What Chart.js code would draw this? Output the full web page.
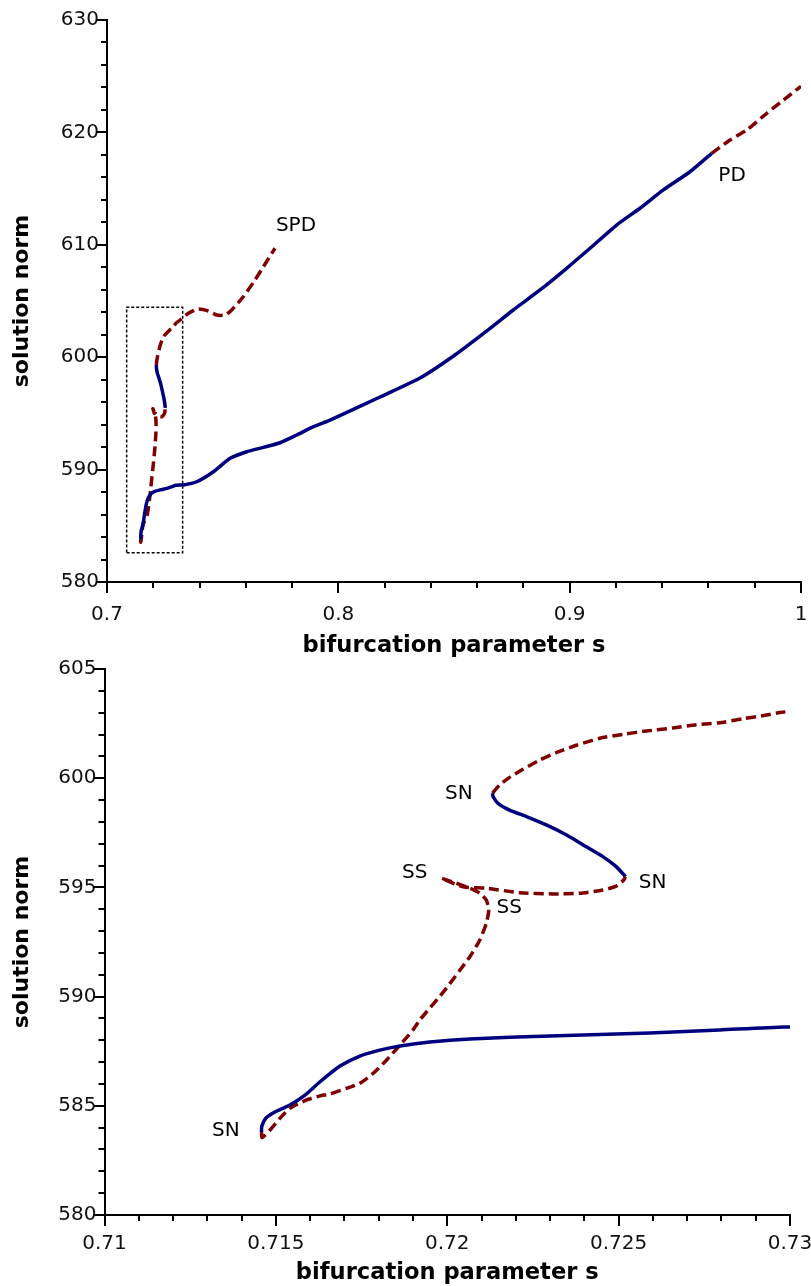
<!DOCTYPE html>
<html>
<head>
<meta charset="utf-8">
<script src="https://cdn.jsdelivr.net/npm/chart.js@4.4.0/dist/chart.umd.min.js"></script>
<style>
  body { margin: 0; background: #fff; }
  #wrap { position: relative; width: 811px; height: 1286px; }
  canvas { position: absolute; left: 0; }
  #overview { top: 0; }
  #detail { top: 657px; }
</style>
</head>
<body>
<div id="wrap">
  <canvas id="overview" width="811" height="657"></canvas>
  <canvas id="detail" width="811" height="629"></canvas>
</div>
<script>
// stable lower branch, from the saddle-node up to the period doubling
var lowS = [0.71458, 0.71459, 0.71471, 0.71497, 0.71541, 0.71585, 0.71628, 0.71687, 0.71745,
  0.71803, 0.71862, 0.71949, 0.72066, 0.72299, 0.72591, 0.72795, 0.72984, 0.73298, 0.7388,
  0.7460, 0.7532, 0.7604, 0.7676, 0.7748, 0.7820, 0.7892, 0.7964, 0.8180, 0.8353, 0.8504,
  0.8656, 0.8756, 0.8872, 0.8987, 0.9088, 0.9203, 0.9304, 0.9405, 0.9520, 0.9614];
var lowN = [583.80, 584.07, 584.44, 584.72, 585.04, 585.49, 586.09, 586.82, 587.28,
  587.55, 587.74, 587.92, 588.06, 588.20, 588.33, 588.47, 588.61, 588.63, 588.92,
  589.81, 591.00, 591.59, 591.98, 592.39, 593.08, 593.82, 594.41, 596.46, 598.15, 600.20,
  602.57, 604.20, 605.98, 607.91, 609.69, 611.76, 613.25, 614.88, 616.50, 618.14];

// unstable after PD
var pdS = [0.9614, 0.9693, 0.9765, 0.9852, 0.9924, 1.0];
var pdN = [618.14, 619.32, 620.21, 621.70, 622.88, 624.10];

// unstable fold: SN -> SS -> SN
var foldS = [0.71458, 0.71460, 0.71483, 0.71512, 0.71541, 0.71590, 0.71628, 0.71657, 0.71706,
  0.71745, 0.71784, 0.71823, 0.71862, 0.71900, 0.71920, 0.71993, 0.72066, 0.72095, 0.72114,
  0.72121, 0.72114, 0.72095, 0.72066, 0.72027, 0.71983, 0.72046, 0.72114, 0.72211, 0.72309,
  0.72386, 0.72454, 0.72493, 0.72515, 0.72520];
var foldN = [583.80, 583.55, 583.89, 584.43, 584.89, 585.27, 585.45, 585.54, 585.80,
  586.03, 586.49, 587.10, 587.78, 588.47, 588.93, 590.30, 591.83, 592.59, 593.36,
  593.97, 594.42, 594.73, 594.96, 595.19, 595.42, 595.03, 594.96, 594.76, 594.70,
  594.73, 594.88, 595.06, 595.34, 595.49];

// stable middle branch between the two SN points
var midS = [0.72520, 0.72493, 0.72454, 0.72406, 0.72348, 0.72289, 0.72231, 0.72182, 0.72148,
  0.72134, 0.72132];
var midN = [595.49, 595.95, 596.41, 596.86, 597.40, 597.86, 598.24, 598.54, 598.85,
  599.15, 599.31];

// unstable upper branch up to SPD
var upS = [0.72132, 0.72153, 0.72182, 0.72221, 0.72270, 0.72318, 0.72377, 0.72445, 0.72513,
  0.72581, 0.72658, 0.72727, 0.72795, 0.72862, 0.72931, 0.72977, 0.7316, 0.7352, 0.7395,
  0.7438, 0.7474, 0.7510, 0.7539, 0.7589, 0.7640, 0.7676, 0.7726];
var upN = [599.31, 599.69, 600.04, 600.41, 600.83, 601.17, 601.51, 601.83, 602.01,
  602.16, 602.30, 602.45, 602.54, 602.72, 602.89, 603.02, 603.31, 603.91, 604.29,
  604.11, 603.75, 603.75, 604.20, 605.38, 606.87, 608.05, 609.69];

// zoom window outline
var boxS = [0.7085, 0.7327, 0.7327, 0.7085, 0.7085];
var boxN = [582.6, 582.6, 604.45, 604.45, 582.6];

// point labels
var overviewText = ['SPD', 'PD'];
var overviewS = [0.7817, 0.9702];
var overviewN = [611.67, 616.12];
var detailText = ['SN', 'SS', 'SS', 'SN', 'SN'];
var detailS = [0.72034, 0.71905, 0.72181, 0.72599, 0.71354];
var detailN = [599.30, 595.66, 594.06, 595.20, 583.85];

// labelled ticks
var overviewXLabels = [0.7, 0.8, 0.9, 1];
var overviewYLabels = [580, 590, 600, 610, 620, 630];
var detailXLabels = [0.71, 0.715, 0.72, 0.725, 0.73];
var detailYLabels = [580, 585, 590, 595, 600, 605];

var BLUE = '#00007f';
var RED = '#7f0000';

function pts(s, n) {
  return s.map(function (v, i) { return { x: v, y: n[i] }; });
}
function stable(s, n) {
  return { data: pts(s, n), showLine: true, borderColor: BLUE, borderWidth: 3.5,
    pointRadius: 0, tension: 0.2, fill: false };
}
function unstable(s, n) {
  return { data: pts(s, n), showLine: true, borderColor: RED, borderWidth: 3.5,
    borderDash: [10, 5], pointRadius: 0, tension: 0.2, fill: false };
}

function labelFor(list) {
  return function (value) {
    for (var i = 0; i < list.length; i++) {
      if (Math.abs(list[i] - value) < 1e-7) return String(list[i]);
    }
    return '';
  };
}

// major / minor tick marks drawn outward from both axes
var axisTicks = {
  id: 'axisTicks',
  afterDraw: function (chart) {
    var ctx = chart.ctx, a = chart.chartArea;
    var xs = chart.scales.x, ys = chart.scales.y;
    ctx.save();
    ctx.strokeStyle = '#000';
    ctx.lineWidth = 2;
    xs.ticks.forEach(function (t) {
      var px = Math.round(xs.getPixelForValue(t.value));
      var len = t.label !== '' ? 11 : 6;
      ctx.beginPath(); ctx.moveTo(px, a.bottom); ctx.lineTo(px, a.bottom + len); ctx.stroke();
    });
    ys.ticks.forEach(function (t) {
      var py = Math.round(ys.getPixelForValue(t.value));
      var len = t.label !== '' ? 11 : 6;
      ctx.beginPath(); ctx.moveTo(a.left, py); ctx.lineTo(a.left - len, py); ctx.stroke();
    });
    ctx.restore();
  }
};

function pointLabels(text, s, n) {
  return {
    id: 'pointLabels',
    afterDatasetsDraw: function (chart) {
      var ctx = chart.ctx;
      ctx.save();
      ctx.font = '20px "DejaVu Sans"';
      ctx.fillStyle = '#000';
      ctx.textAlign = 'center';
      ctx.textBaseline = 'middle';
      text.forEach(function (t, i) {
        ctx.fillText(t, chart.scales.x.getPixelForValue(s[i]), chart.scales.y.getPixelForValue(n[i]));
      });
      ctx.restore();
    }
  };
}

function axes(xMin, xMax, xStep, xLabels, yMin, yMax, yStep, yLabels, yWidth, xHeight, xGap, titlePad) {
  var tickFont = { family: 'DejaVu Sans', size: 20 };
  return {
    x: {
      type: 'linear', min: xMin, max: xMax,
      grid: { display: true, drawOnChartArea: false, drawTicks: true, tickLength: xGap, color: 'rgba(0,0,0,0)' },
      border: { display: true, color: '#000', width: 2 },
      ticks: { stepSize: xStep, autoSkip: false, maxRotation: 0, padding: 0, color: '#111',
        font: tickFont, callback: labelFor(xLabels) },
      title: { display: true, text: 'bifurcation parameter s', color: '#000',
        font: { family: 'DejaVu Sans', size: 22.6, weight: 'bold', lineHeight: 1 },
        padding: { top: 0, bottom: titlePad } },
      afterFit: function (scale) {
        scale.height = xHeight;
        scale.paddingLeft = 0;
        scale.paddingRight = 0;
      }
    },
    y: {
      type: 'linear', min: yMin, max: yMax,
      grid: { display: true, drawOnChartArea: false, drawTicks: true, tickLength: 8, color: 'rgba(0,0,0,0)' },
      border: { display: true, color: '#000', width: 2 },
      ticks: { stepSize: yStep, autoSkip: false, padding: 0, color: '#111',
        font: tickFont, callback: labelFor(yLabels) },
      title: { display: true, text: 'solution norm', color: '#000',
        font: { family: 'DejaVu Sans', size: 22, weight: 'bold', lineHeight: 1 },
        padding: { top: 11, bottom: 0 } },
      afterFit: function (scale) {
        scale.width = yWidth;
        scale.paddingTop = 0;
        scale.paddingBottom = 0;
      }
    }
  };
}

var common = {
  responsive: false,
  devicePixelRatio: 1,
  animation: false,
  events: [],
  plugins: { legend: { display: false }, tooltip: { enabled: false } }
};

new Chart(document.getElementById('overview').getContext('2d'), {
  type: 'scatter',
  data: {
    datasets: [
      stable(lowS, lowN),
      unstable(pdS, pdN),
      unstable(foldS, foldN),
      stable(midS, midN),
      unstable(upS, upN),
      { data: pts(boxS, boxN), showLine: true, borderColor: '#000', borderWidth: 1.5,
        borderDash: [3, 2], pointRadius: 0, tension: 0, fill: false }
    ]
  },
  options: Object.assign({}, common, {
    layout: { padding: { left: 0, right: 10, top: 20, bottom: 0 } },
    scales: axes(0.7, 1, 0.02, overviewXLabels, 580, 630, 2, overviewYLabels, 107, 75, 21, 0)
  }),
  plugins: [axisTicks, pointLabels(overviewText, overviewS, overviewN)]
});

new Chart(document.getElementById('detail').getContext('2d'), {
  type: 'scatter',
  data: {
    datasets: [
      stable(lowS, lowN),
      unstable(foldS, foldN),
      stable(midS, midN),
      unstable(upS, upN)
    ]
  },
  options: Object.assign({}, common, {
    layout: { padding: { left: 0, right: 21, top: 12, bottom: 0 } },
    scales: axes(0.71, 0.73, 0.001, detailXLabels, 580, 605, 1, detailYLabels, 104.5, 71, 17, 2)
  }),
  plugins: [axisTicks, pointLabels(detailText, detailS, detailN)]
});
</script>
</body>
</html>
